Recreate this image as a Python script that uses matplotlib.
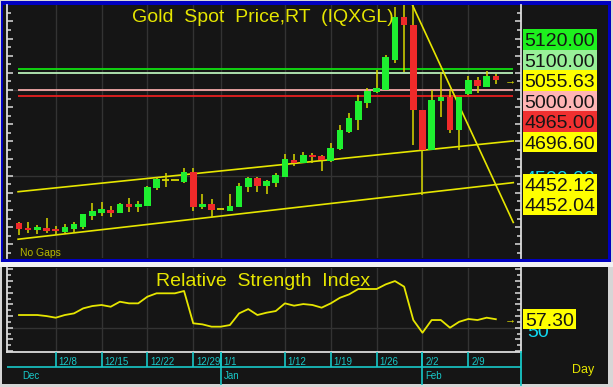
import matplotlib
matplotlib.use('Agg')
import matplotlib.pyplot as plt
from matplotlib.patches import Rectangle
from matplotlib.ticker import MultipleLocator
from matplotlib import font_manager

names = {f.name for f in font_manager.fontManager.ttflist}
SANS = 'Liberation Sans' if 'Liberation Sans' in names else 'DejaVu Sans'
NARROW = 'Liberation Sans Narrow' if 'Liberation Sans Narrow' in names else SANS
plt.rcParams['font.family'] = [SANS, 'DejaVu Sans']

# ---------------- data ----------------
opens = [4223, 4198, 4184, 4198, 4190, 4172, 4188, 4203, 4265, 4285,
         4300, 4285, 4335, 4316, 4326, 4427, 4475, 4475, 4466, 4524,
         4316, 4334, 4304, 4297, 4316, 4433, 4485, 4442, 4460, 4495,
         4592, 4576, 4621, 4615, 4586, 4654, 4753, 4825, 4922, 4990,
         5000, 5175, 5424, 5379, 4883, 4650, 4936, 4961, 4767, 4977,
         5058, 5019, 5082]
highs = [4228, 4232, 4213, 4252, 4207, 4219, 4232, 4278, 4343, 4345,
         4326, 4343, 4368, 4353, 4441, 4495, 4514, 4475, 4543, 4543,
         4394, 4365, 4304, 4394, 4456, 4495, 4495, 4476, 4514, 4627,
         4627, 4636, 4631, 4621, 4689, 4796, 4864, 4971, 5010, 5117,
         5204, 5486, 5600, 5495, 4883, 5000, 5107, 5000, 4961, 5082,
         5078, 5113, 5093]
lows = [4155, 4164, 4161, 4164, 4155, 4164, 4164, 4190, 4242, 4265,
        4262, 4281, 4287, 4291, 4324, 4417, 4437, 4475, 4460, 4295,
        4304, 4258, 4304, 4295, 4316, 4408, 4408, 4392, 4437, 4491,
        4557, 4574, 4573, 4530, 4582, 4650, 4751, 4767, 4893, 4984,
        5000, 5155, 5107, 4679, 4388, 4650, 4845, 4751, 4650, 4971,
        4984, 5016, 5035]
closes = [4188, 4184, 4199, 4180, 4176, 4199, 4217, 4275, 4294, 4304,
          4285, 4335, 4316, 4335, 4437, 4479, 4475, 4475, 4524, 4316,
          4334, 4301, 4304, 4324, 4442, 4485, 4442, 4470, 4504, 4596,
          4573, 4620, 4608, 4592, 4664, 4767, 4835, 4936, 4994, 5010,
          5190, 5427, 5379, 4883, 4650, 4942, 4961, 4767, 4961, 5058,
          5023, 5082, 5055.63]
rsi = [60.9, 60.9, 60.9, 60.0, 58.6, 60.9, 62.3, 66.6, 68.6, 69.5,
       68.0, 72.3, 70.9, 70.9, 76.6, 79.5, 79.5, 79.5, 81.5, 53.8,
       52.9, 50.9, 50.9, 52.3, 62.3, 66.0, 60.9, 62.9, 64.3, 70.9,
       68.9, 70.3, 69.5, 67.2, 70.9, 75.7, 78.6, 83.2, 83.2, 83.2,
       87.2, 90.0, 85.2, 56.6, 45.7, 56.6, 56.6, 50.0, 55.1, 57.5,
       56.6, 58.6, 57.30]

tick_idx = [4, 9, 14, 19, 22, 29, 34, 39, 44, 49]
tick_labels = ['12/8', '12/15', '12/22', '12/29', '1/1', '1/12', '1/19', '1/26', '2/2', '2/9']
month_idx = [0, 22, 44]
month_labels = ['Dec', 'Jan', 'Feb']

level_values = [5120.00, 5100.00, 5000.00, 4965.00]
level_colors = ['#10e010', '#b8f0b8', '#f4a8a8', '#e82020']

upper_x, upper_y = [-0.1, 53.9], [4407, 4703]
lower_x, lower_y = [-0.1, 53.9], [4130, 4460]
down_x, down_y = [42, 53.9], [5600, 4228]

label_values = [5120.00, 5100.00, 5055.63, 5000.00, 4965.00, 4696.60, 4452.12, 4452.04]
label_colors = ['#1ef01e', '#98f098', '#ffff00', '#ffb4b4', '#f03030', '#ffff00', '#ffff00', '#ffff00']
grid_price = [4500, 5000]
rsi_last = 57.30
rsi_mid = 50

# ---------------- layout ----------------
W, H = 613, 387
DARK = '#151515'
YEL = '#e6e600'
CYAN = '#18c8c8'
WHITE = '#dcdcdc'
GRID = '#333333'

fig = plt.figure(figsize=(W / 100, H / 100), dpi=100, facecolor='#d6d6d6')


def fbox(x0, y0, x1, y1):
    return [x0 / W, 1 - y1 / H, (x1 - x0) / W, (y1 - y0) / H]


bg = fig.add_axes([0, 0, 1, 1], zorder=0)
bg.set_xlim(0, W)
bg.set_ylim(H, 0)
bg.axis('off')
bg.add_patch(Rectangle((1, 1), 610, 261, facecolor='#0000c0', edgecolor='none'))
bg.add_patch(Rectangle((3, 5), 605, 254, facecolor=DARK, edgecolor='none'))
bg.add_patch(Rectangle((0, 262), W, 5, facecolor='#f2f2f2', edgecolor='none'))
bg.add_patch(Rectangle((2, 267), 606, 117, facecolor=DARK, edgecolor='none'))

XL = ((7 - 19) / 9.17, (521 - 19) / 9.17)

# ---- price axes ----
ax = fig.add_axes(fbox(7, 5, 521, 258), zorder=1)
ax.set_facecolor('none')
ax.set_xlim(*XL)
ax.set_ylim(4020.6, 5495.6)
for s in ['top', 'bottom']:
    ax.spines[s].set_visible(False)
for s in ['left', 'right']:
    ax.spines[s].set_color(WHITE)
    ax.spines[s].set_linewidth(1.3)
ax.yaxis.set_major_locator(MultipleLocator(100))
ax.yaxis.set_minor_locator(MultipleLocator(50))
ax.tick_params(axis='y', which='both', direction='in', left=True, right=True,
               labelleft=False, labelright=False, color=WHITE, width=1.1)
ax.tick_params(axis='y', which='major', length=4.6)
ax.tick_params(axis='y', which='minor', length=2.8)
ax.set_xticks(tick_idx)
ax.tick_params(axis='x', bottom=False, labelbottom=False)
ax.grid(True, axis='x', color=GRID, lw=1.0)
for g in grid_price:
    ax.axhline(g, color=GRID, lw=1.0, zorder=0.5)

for v, c in zip(level_values, level_colors):
    ax.hlines(v, -0.1, 53.9, color=c, lw=1.3, zorder=2)

ax.plot(upper_x, upper_y, color=YEL, lw=1.2, zorder=2)
ax.plot(lower_x, lower_y, color=YEL, lw=1.2, zorder=2)
ax.plot(down_x, down_y, color=YEL, lw=1.2, zorder=2)

xs = list(range(len(opens)))
ax.vlines(xs, lows, highs, color='#d8d800', lw=1.1, zorder=3)
for i, (o, c) in enumerate(zip(opens, closes)):
    if o == c:
        ax.hlines(o, i - 0.4, i + 0.4, color='#d8d800', lw=1.3, zorder=4)
    else:
        col = '#1ef030' if c > o else '#f02a2a'
        ax.bar(i, abs(c - o), bottom=min(o, c), width=0.72, color=col,
               edgecolor='none', zorder=4)

# ---- RSI axes ----
ar = fig.add_axes(fbox(7, 268, 521, 352), zorder=1)
ar.set_facecolor('none')
ar.set_xlim(*XL)
ar.set_ylim(29.2, 101.2)
ar.spines['top'].set_visible(False)
for s in ['left', 'right', 'bottom']:
    ar.spines[s].set_color(WHITE)
    ar.spines[s].set_linewidth(1.3)
ar.yaxis.set_major_locator(MultipleLocator(10))
ar.yaxis.set_minor_locator(MultipleLocator(5))
ar.tick_params(axis='y', which='both', direction='in', left=True, right=True,
               labelleft=False, labelright=False, color=WHITE, width=1.1)
ar.tick_params(axis='y', which='major', length=4.6)
ar.tick_params(axis='y', which='minor', length=2.8)
ar.set_xticks(tick_idx)
ar.tick_params(axis='x', bottom=False, labelbottom=False)
ar.grid(True, axis='x', color=GRID, lw=1.0)
ar.axhline(rsi_mid, color=GRID, lw=1.0, zorder=0.5)
ar.plot(xs, rsi, color=YEL, lw=1.3, zorder=3)

# ---- date axes ----
ad = fig.add_axes(fbox(7, 352, 521, 385), zorder=1)
ad.set_facecolor('none')
ad.set_xlim(*XL)
ad.set_ylim(0, 1)
for s in ['top', 'left', 'bottom']:
    ad.spines[s].set_visible(False)
ad.spines['right'].set_color(CYAN)
ad.spines['right'].set_linewidth(1.3)
ad.set_xticks([])
ad.set_yticks([])
split = (385 - 367) / 33
ad.vlines(tick_idx, split, 1, color=CYAN, lw=1.2)
ad.axhline(split, color=CYAN, lw=1.2)
ad.vlines([m for m in month_idx if m > 0], 0, 1, color=CYAN, lw=1.2)
for t, lab in zip(tick_idx, tick_labels):
    ad.text(t + 0.3, 0.70, lab, color=CYAN, fontsize=7, family=[NARROW, 'DejaVu Sans'],
            ha='left', va='center')
for m, lab in zip(month_idx, month_labels):
    ad.text(m + 0.3, 0.28, lab, color=CYAN, fontsize=7, family=[NARROW, 'DejaVu Sans'],
            ha='left', va='center')

# ---- overlay texts ----
ov = fig.add_axes([0, 0, 1, 1], zorder=3)
ov.set_xlim(0, W)
ov.set_ylim(H, 0)
ov.axis('off')


def pix_y(a, v):
    return H - a.transData.transform((0, v))[1]


ov.text(263, 17, 'Gold  Spot  Price,RT  (IQXGL)', color=YEL, fontsize=14,
        ha='center', va='center')
ov.text(263, 282, 'Relative  Strength  Index', color=YEL, fontsize=14,
        ha='center', va='center')
ov.text(20, 253, 'No Gaps', color='#b8b800', fontsize=7.5, ha='left', va='center')
ov.text(583, 370, 'Day', color=YEL, fontsize=9, ha='center', va='center')

# price-scale labels (stacked around the current price)
LH = 20.5
ys = [pix_y(ax, v) for v in label_values]
anchor = 2
pos = list(ys)
for k in range(anchor + 1, len(pos)):
    pos[k] = max(pos[k], pos[k - 1] + LH)
for k in range(anchor - 1, -1, -1):
    pos[k] = min(pos[k], pos[k + 1] - LH)

ov.text(560, pix_y(ax, 4500) + 1 + 7, '4500.00', color='#10d8f0', fontsize=14,
        ha='center', va='baseline', zorder=1)
for v, c, yc in zip(label_values, label_colors, pos):
    ov.add_patch(Rectangle((523, yc - LH / 2), 74, LH, facecolor=c, edgecolor='none', zorder=2))
    ov.text(560, yc + 7, f'{v:.2f}', color='#151515', fontsize=14, ha='center',
            va='baseline', zorder=3)

ov.text(510, pix_y(ax, label_values[anchor]), '→', color=YEL, fontsize=8,
        ha='center', va='center')

# RSI labels
y50 = pix_y(ar, rsi_mid)
ov.text(527, y50 + 2 + 7, f'{rsi_mid}', color='#10d8f0', fontsize=14, ha='left',
        va='baseline', zorder=1)
yr = pix_y(ar, rsi_last)
ov.add_patch(Rectangle((523, yr - LH / 2), 53, LH, facecolor='#ffff00', edgecolor='none', zorder=2))
ov.text(549.5, yr + 7, f'{rsi_last:.2f}', color='#151515', fontsize=14, ha='center',
        va='baseline', zorder=3)
ov.text(510, yr, '→', color=YEL, fontsize=8, ha='center', va='center')

fig.savefig('out.png', dpi=100, facecolor=fig.get_facecolor())
